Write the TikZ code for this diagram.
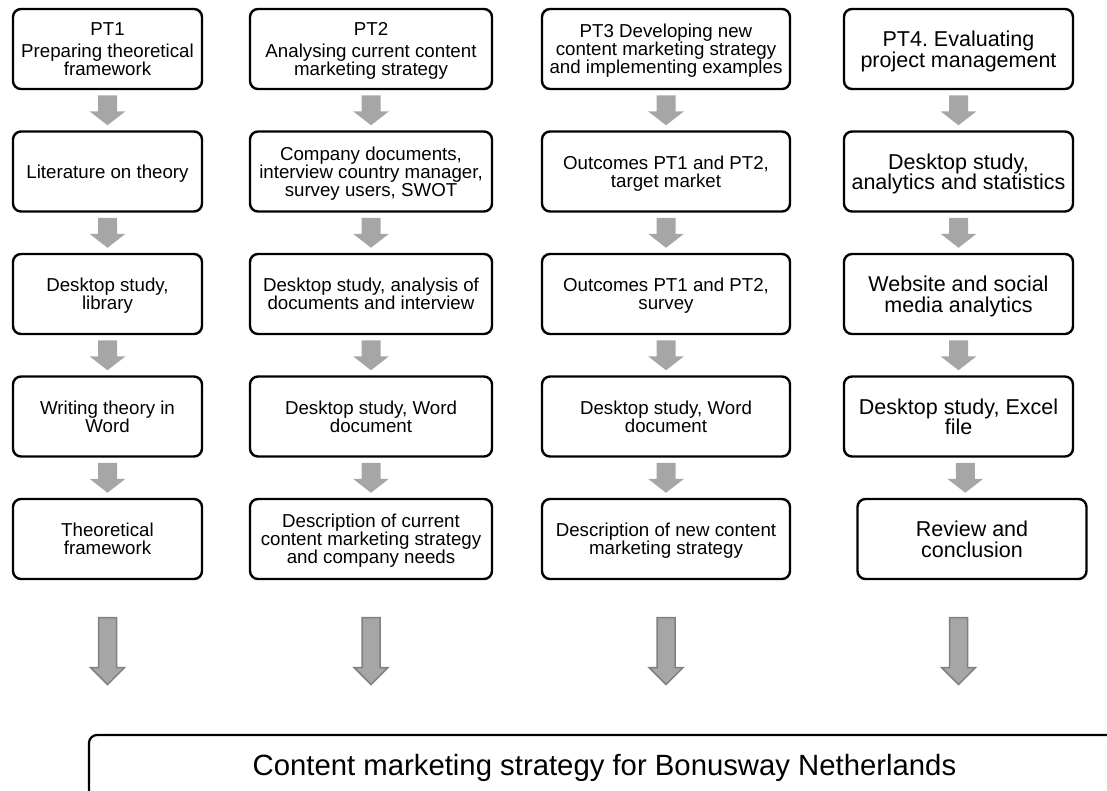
\documentclass[tikz,border=0pt]{standalone}
\usepackage{fontspec}
\setmainfont{Liberation Sans}
\frenchspacing
\usepackage{tikz}
\usetikzlibrary{arrows,shapes}

\definecolor{arrowgray}{HTML}{A6A6A6}
\definecolor{edgegray}{HTML}{808080}

\tikzset{
  taskbox/.style={draw, line width=2.4pt, rounded corners=8pt, align=center,
    minimum height=80pt, inner sep=2pt, text depth=-8pt,
    font=\fontsize{18.7}{18}\selectfont},
  wide/.style={font=\fontsize{21.5}{20.5}\selectfont},
  smallarr/.pic={\fill[arrowgray] (-9.5,-15) -- (9.5,-15) -- (9.5,1) -- (18,1)
    -- (0,15) -- (-18,1) -- (-9.5,1) -- cycle;},
  bigarr/.pic={\filldraw[fill=arrowgray, draw=edgegray, line width=1.5pt]
    (-9,-33.5) -- (9,-33.5) -- (9,16.5) -- (17,16.5) -- (0,33.5) -- (-17,16.5)
    -- (-9,16.5) -- cycle;}
}

\begin{document}
\begin{tikzpicture}[x=1pt, y=-1pt]
  \useasboundingbox (0,0) rectangle (1107,790);
  \clip (0,0) rectangle (1107,790);

  % PT1
  \node[taskbox, minimum width=189pt] (c1r0) at (107.5,49) {PT1\\[4pt]Preparing theoretical\\framework};
  \node[taskbox, minimum width=189pt] (c1r1) at (107.5,171.5) {Literature on theory};
  \node[taskbox, minimum width=189pt] (c1r2) at (107.5,294) {Desktop study,\\library};
  \node[taskbox, minimum width=189pt] (c1r3) at (107.5,416.5) {Writing theory in\\Word};
  \node[taskbox, minimum width=189pt] (c1r4) at (107.5,539) {Theoretical\\framework};

  % PT2
  \node[taskbox, minimum width=242pt] (c2r0) at (371,49) {PT2\\[4pt]Analysing current content\\marketing strategy};
  \node[taskbox, minimum width=242pt] (c2r1) at (371,171.5) {Company documents,\\interview country manager,\\survey users, SWOT};
  \node[taskbox, minimum width=242pt] (c2r2) at (371,294) {Desktop study, analysis of\\documents and interview};
  \node[taskbox, minimum width=242pt] (c2r3) at (371,416.5) {Desktop study, Word\\document};
  \node[taskbox, minimum width=242pt] (c2r4) at (371,539) {Description of current\\content marketing strategy\\and company needs};

  % PT3
  \node[taskbox, minimum width=248pt] (c3r0) at (666,49) {PT3 Developing new\\content marketing strategy\\and implementing examples};
  \node[taskbox, minimum width=248pt] (c3r1) at (666,171.5) {Outcomes PT1 and PT2,\\target market};
  \node[taskbox, minimum width=248pt] (c3r2) at (666,294) {Outcomes PT1 and PT2,\\survey};
  \node[taskbox, minimum width=248pt] (c3r3) at (666,416.5) {Desktop study, Word\\document};
  \node[taskbox, minimum width=248pt] (c3r4) at (666,539) {Description of new content\\marketing strategy};

  % PT4
  \node[taskbox, wide, minimum width=229pt] (c4r0) at (958.5,49) {PT4. Evaluating\\project management};
  \node[taskbox, wide, minimum width=229pt] (c4r1) at (958.5,171.5) {Desktop study,\\analytics and statistics};
  \node[taskbox, wide, minimum width=229pt] (c4r2) at (958.5,294) {Website and social\\media analytics};
  \node[taskbox, wide, minimum width=229pt] (c4r3) at (958.5,416.5) {Desktop study, Excel\\file};
  \node[taskbox, wide, minimum width=229pt] (c4r4) at (972,539) {Review and\\conclusion};

  % final result
  \node[draw, line width=2.2pt, rounded corners=8pt, minimum width=1031pt, minimum height=66pt,
    font=\fontsize{29.3}{30}\selectfont] (goal) at (604.5,768) {Content marketing strategy for Bonusway Netherlands};

  % arrows between the steps
  \foreach \col in {1,...,4}{
    \foreach \row [count=\next from 1] in {0,...,3}{
      \path (c\col r\row.south) -- coordinate[pos=.5] (m) (c\col r\next.north);
      \pic at (m) {smallarr};
    }
    \path (c\col r3.south |- c\col r4.south) -- coordinate[pos=.5] (n) (c\col r3.south |- goal.north);
    \pic at ([yshift=6pt]n) {bigarr};
  }
\end{tikzpicture}
\end{document}
